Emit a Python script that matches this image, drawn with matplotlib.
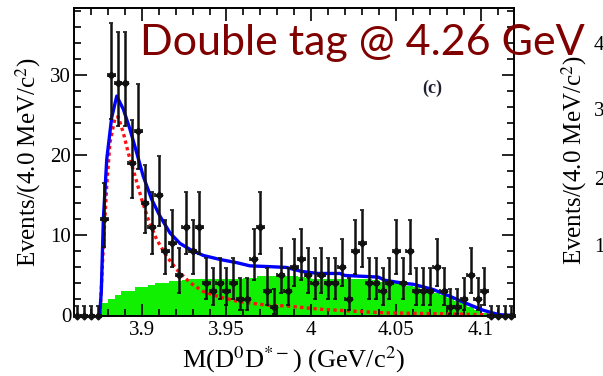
import numpy as np
import matplotlib
matplotlib.use('Agg')
import matplotlib.pyplot as plt
from matplotlib.ticker import MultipleLocator

plt.rcParams['font.family'] = 'Liberation Serif'
plt.rcParams['mathtext.fontset'] = 'stix'

# data: events per 4 MeV bin
mass = 3.862 + 0.004 * np.arange(65)
counts = [0, 0, 0, 0,
          12, 30, 29, 29, 19, 23, 14, 11, 15, 8,
          9, 5, 11, 8, 11, 4, 3, 4, 3, 4,
          2, 2, 7, 11, 3, 1, 5, 3, 6, 7,
          5, 4, 5, 4, 4, 6, 2, 8, 9, 4,
          4, 3, 4, 8, 4, 8, 3, 3, 3, 6,
          3, 1, 1, 2, 5, 2, 3,
          0, 0, 0, 0]

# background shape (green histogram)
bkg_edges = 3.876 + 0.004 * np.arange(58)
bkg = [1.5, 2.0, 2.6, 3.0, 3.0, 3.6, 3.6, 3.75, 4.1, 4.1,
       4.3, 4.3, 4.4, 4.5, 4.5, 4.5, 4.5, 4.5, 4.5, 4.6,
       4.6, 4.7, 4.7, 4.9, 4.9, 4.9, 4.9, 4.9, 4.9, 4.8,
       4.7, 4.6, 4.6, 4.5, 4.5, 4.6, 4.5, 4.5, 4.5, 4.5,
       4.4, 4.2, 4.1, 4.0, 3.9, 3.7, 3.5, 3.3, 3.1, 2.8,
       2.5, 2.2, 1.8, 1.5, 1.1, 0.7, 0.3]

# total fit (blue)
fit_m = [3.8752, 3.8762, 3.8774, 3.8794, 3.8823, 3.8853, 3.8892, 3.8931, 3.8971,
         3.9009, 3.9059, 3.9108, 3.9167, 3.9226, 3.9285, 3.9363, 3.9461, 3.9560,
         3.9638, 3.9756, 3.9854, 3.9943, 4.0041, 4.0169, 4.0198, 4.0394, 4.0434,
         4.0552, 4.0600, 4.0718, 4.0817, 4.0915, 4.1013, 4.1072, 4.1111, 4.1195]
fit_y = [0, 3.0, 12, 19.5, 24.7, 27.4, 25.75, 23.25, 20.3,
         17.4, 14.5, 12.4, 10.3, 9.0, 8.25, 7.5, 7.0, 6.6,
         6.2, 6.1, 6.0, 5.5, 5.25, 5.25, 5.0, 4.8, 4.4,
         4.0, 3.9, 3.25, 2.4, 1.5, 0.66, 0.3, 0.1, 0]

# signal component (red dotted)
sig_m = [3.8752, 3.8755, 3.8774, 3.8794, 3.8813, 3.8843, 3.8862, 3.8892, 3.8921,
         3.8961, 3.9000, 3.9039, 3.9088, 3.9147, 3.9206, 3.9285, 3.9363, 3.9461,
         3.9560, 3.9658, 3.9756, 3.9854, 4.0041, 4.0237, 4.0434, 4.0817, 4.1011, 4.1082]
sig_y = [0, 0.3, 8.7, 16.2, 21.6, 24.7, 24.8, 22.8, 20.3,
         17.4, 14.5, 12.0, 9.5, 7.4, 5.75, 4.1, 3.0, 2.3,
         1.8, 1.5, 1.25, 1.2, 0.8, 0.55, 0.33, 0.2, 0.1, 0]

xticks = [3.9, 3.95, 4.0, 4.05, 4.1]
xticklabels = ['3.9', '3.95', '4', '4.05', '4.1']
yticks = [0, 10, 20, 30]
# tick digits of the next panel that stay inside the page
side_labels = ['4', '3', '2', '1']

# poisson error bars (Gehrels approximation)
n = np.array(counts, dtype=float)
nn = np.maximum(n, 1)
err_up = np.where(n > 0, np.sqrt(nn + 0.75) + 1, 1.15)
err_lo = np.where(n > 0, nn - nn * (1 - 1 / (9 * nn) - 1 / (3 * np.sqrt(nn))) ** 3, 0)

fig = plt.figure(figsize=(6.03, 3.76), dpi=100)
ax = fig.add_axes([74 / 603, 60.5 / 376, 440 / 603, 307.5 / 376])

ax.stairs(bkg, bkg_edges, fill=True, color='#11f000', zorder=1)
ax.plot(sig_m, sig_y, color='#ff1010', lw=2.4, dashes=(1, 1), zorder=2)
ax.plot(fit_m, fit_y, color='#0000ff', lw=2.4, zorder=3)
ax.errorbar(mass, counts, yerr=[err_lo, err_up], xerr=0.002, fmt='D', color='#111111',
            ms=3.5, elinewidth=1.8, capsize=1.5, capthick=1.2, zorder=4, clip_on=False)

ax.set_xlim(3.8601, 4.1195)
ax.set_ylim(0, 38.4)
ax.set_xticks(xticks)
ax.set_xticklabels(xticklabels)
ax.set_yticks(yticks)
ax.xaxis.set_minor_locator(MultipleLocator(0.01))
ax.yaxis.set_minor_locator(MultipleLocator(2))
ax.tick_params(which='both', direction='in', top=True, right=True, width=1.2, labelsize=15)
ax.tick_params(which='major', length=9)
ax.tick_params(which='minor', length=5)
ax.tick_params(axis='y', pad=2)
ax.tick_params(axis='x', pad=4)
for s in ax.spines.values():
    s.set_linewidth(1.4)

ax.set_xlabel('M(D$^0$D$^{*-}$) (GeV/c$^2$)', fontsize=19, labelpad=3)
ax.set_ylabel('Events/(4.0 MeV/c$^2$)', fontsize=18, labelpad=5)
ax.text(0.815, 0.74, '(c)', transform=ax.transAxes, fontsize=13, fontweight='bold',
        color='#202035', ha='center', va='center')

# neighbouring panel, cut off at the edge
fig.text(574 / 603, 1 - 160 / 376, 'Events/(4.0 MeV/c$^2$)', rotation=90, fontsize=18,
         ha='center', va='center')
for lab, yp in zip(side_labels, [45, 112, 180, 247]):
    fig.text(594 / 603, 1 - yp / 376, lab, fontsize=15, ha='left', va='center')

fig.text(140 / 603, 1 - 55 / 376, 'Double tag @ 4.26 GeV', family='Lato', fontsize=31,
         color='#800000', ha='left', va='baseline', zorder=10)

fig.savefig('out.png', dpi=100)
